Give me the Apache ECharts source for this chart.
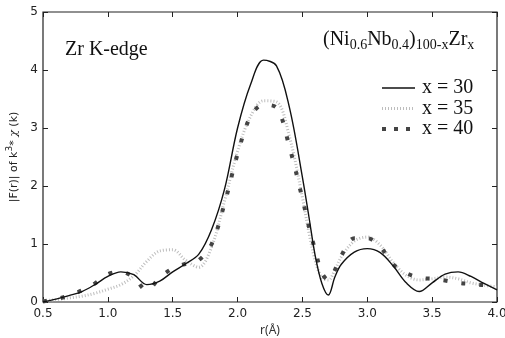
<!DOCTYPE html>
<html>
<head>
<meta charset="utf-8">
<script src="https://cdn.jsdelivr.net/npm/echarts@6/dist/echarts.min.js"></script>
<style>
  html, body { margin: 0; padding: 0; background: #fff; }
  #chart { width: 505px; height: 338px; }
</style>
</head>
<body>
<div id="chart"></div>
<script>
// r (Å) sample positions
const rValues = [0.5, 0.6, 0.7, 0.8, 0.9, 1.0, 1.1, 1.2, 1.3, 1.4, 1.5, 1.6, 1.7, 1.8, 1.9,
  2.0, 2.1, 2.2, 2.3, 2.4, 2.5, 2.55, 2.6, 2.65, 2.7, 2.75, 2.8, 2.9, 3.0, 3.1, 3.2,
  3.3, 3.4, 3.5, 3.6, 3.7, 3.8, 3.9, 4.0]
// |F(r)| for each composition
const x30 = [0.0, 0.05, 0.11, 0.18, 0.3, 0.44, 0.52, 0.47, 0.3, 0.36, 0.52, 0.66, 0.82, 1.25, 1.95,
  3.0, 3.75, 4.17, 4.07, 3.35, 2.15, 1.47, 0.78, 0.32, 0.12, 0.43, 0.65, 0.86, 0.92, 0.85, 0.62,
  0.33, 0.18, 0.33, 0.48, 0.52, 0.44, 0.32, 0.21]
const x35 = [0.02, 0.04, 0.07, 0.1, 0.15, 0.22, 0.3, 0.45, 0.7, 0.88, 0.9, 0.72, 0.6, 0.95, 1.75,
  2.6, 3.2, 3.47, 3.45, 2.85, 1.8, 1.2, 0.7, 0.42, 0.38, 0.55, 0.78, 1.05, 1.12, 0.98, 0.68,
  0.46, 0.38, 0.4, 0.43, 0.4, 0.33, 0.29, 0.26]
const x40 = [0.01, 0.05, 0.11, 0.2, 0.32, 0.48, 0.52, 0.42, 0.2, 0.42, 0.58, 0.66, 0.72, 1.0, 1.7,
  2.55, 3.2, 3.4, 3.35, 2.67, 1.78, 1.3, 0.88, 0.5, 0.38, 0.55, 0.8, 1.1, 1.1, 0.95, 0.65,
  0.5, 0.42, 0.4, 0.37, 0.33, 0.31, 0.29, 0.26]
const seriesNames = ['x = 30', 'x = 35', 'x = 40']

// 线型: 实线 / 浅灰点线 / 深灰虚线
const lineStyles = [
  { color: '#111', width: 1.4 },
  { color: '#bdbdbd', width: 3, type: [1, 2] },
  { color: '#444', width: 4, type: [4, 14] }
]

const pairs = (ys) => rValues.map((r, i) => [r, ys[i]])

const chart = echarts.init(document.getElementById('chart'))

const tickStyle = { show: true, inside: true, length: 5, lineStyle: { color: '#222' } }

// 图例手动绘制 (线段 + 文字)
const legendGraphic = []
seriesNames.forEach((name, i) => {
  const y = 88 + i * 20.5
  const ls = lineStyles[i]
  legendGraphic.push({
    type: 'line',
    shape: { x1: 382, y1: y, x2: 415, y2: y },
    style: { stroke: ls.color, lineWidth: ls.width, lineDash: ls.type === undefined ? null : (i === 2 ? [4, 8] : ls.type) }
  })
  legendGraphic.push({
    type: 'text', x: 422, y: y,
    style: { text: name, font: '20px "Liberation Serif"', fill: '#111', textVerticalAlign: 'middle' }
  })
})

const option = {
  animation: false,
  grid: {
    left: 43, right: 8, top: 12, bottom: 36, outerBoundsMode: 'none',
    show: true, borderColor: '#222', borderWidth: 1.2
  },
  xAxis: [
    {
      type: 'value', min: 0.5, max: 4.0, interval: 0.5,
      name: 'r(Å)', nameLocation: 'middle', nameGap: 22,
      nameTextStyle: { fontFamily: 'Noto Sans', fontSize: 12, color: '#333' },
      axisLine: { show: false },
      axisTick: tickStyle,
      splitLine: { show: false },
      axisLabel: {
        formatter: (v) => v.toFixed(1), color: '#222', fontSize: 12,
        fontFamily: 'DejaVu Sans', margin: 6
      }
    },
    {
      type: 'value', min: 0.5, max: 4.0, interval: 0.5, position: 'top',
      axisLine: { show: false, onZero: false },
      axisTick: tickStyle,
      splitLine: { show: false },
      axisLabel: { show: false }
    }
  ],
  yAxis: [
    {
      type: 'value', min: 0, max: 5, interval: 1,
      name: '|F(r)| of k{sup|3}* {chi|χ} (k)', nameLocation: 'middle', nameGap: 14,
      nameTextStyle: {
        fontFamily: 'DejaVu Sans', fontSize: 11, color: '#222',
        rich: {
          sup: { fontSize: 9, verticalAlign: 'bottom', padding: [0, 0, 8, 0], fontFamily: 'DejaVu Sans', color: '#222' },
          chi: { fontStyle: 'italic', fontFamily: 'DejaVu Serif', fontSize: 11, color: '#222' }
        }
      },
      axisLine: { show: false },
      axisTick: tickStyle,
      splitLine: { show: false },
      axisLabel: { color: '#222', fontSize: 12, fontFamily: 'DejaVu Sans', margin: 5 }
    },
    {
      type: 'value', min: 0, max: 5, interval: 1, position: 'right',
      axisLine: { show: false, onZero: false },
      axisTick: tickStyle,
      splitLine: { show: false },
      axisLabel: { show: false }
    }
  ],
  graphic: [
    {
      type: 'text', left: 65, top: 40,
      style: { text: 'Zr K-edge', font: '20px "Liberation Serif"', fill: '#111' }
    },
    {
      type: 'text', left: 323, top: 30,
      style: {
        text: '(Ni{s|0.6}Nb{s|0.4}){s|100-x}Zr{s|x}',
        font: '20px "Liberation Serif"', fill: '#111',
        rich: {
          s: { fontSize: 14, fontFamily: 'Liberation Serif', padding: [10, 0, 0, 0], fill: '#111' }
        }
      }
    }
  ].concat(legendGraphic),
  series: seriesNames.map((name, i) => ({
    name: name, type: 'line', data: pairs([x30, x35, x40][i]), smooth: 0.35,
    symbol: 'none', lineStyle: lineStyles[i], z: [3, 1, 2][i]
  }))
}

chart.setOption(option)
</script>
</body>
</html>
